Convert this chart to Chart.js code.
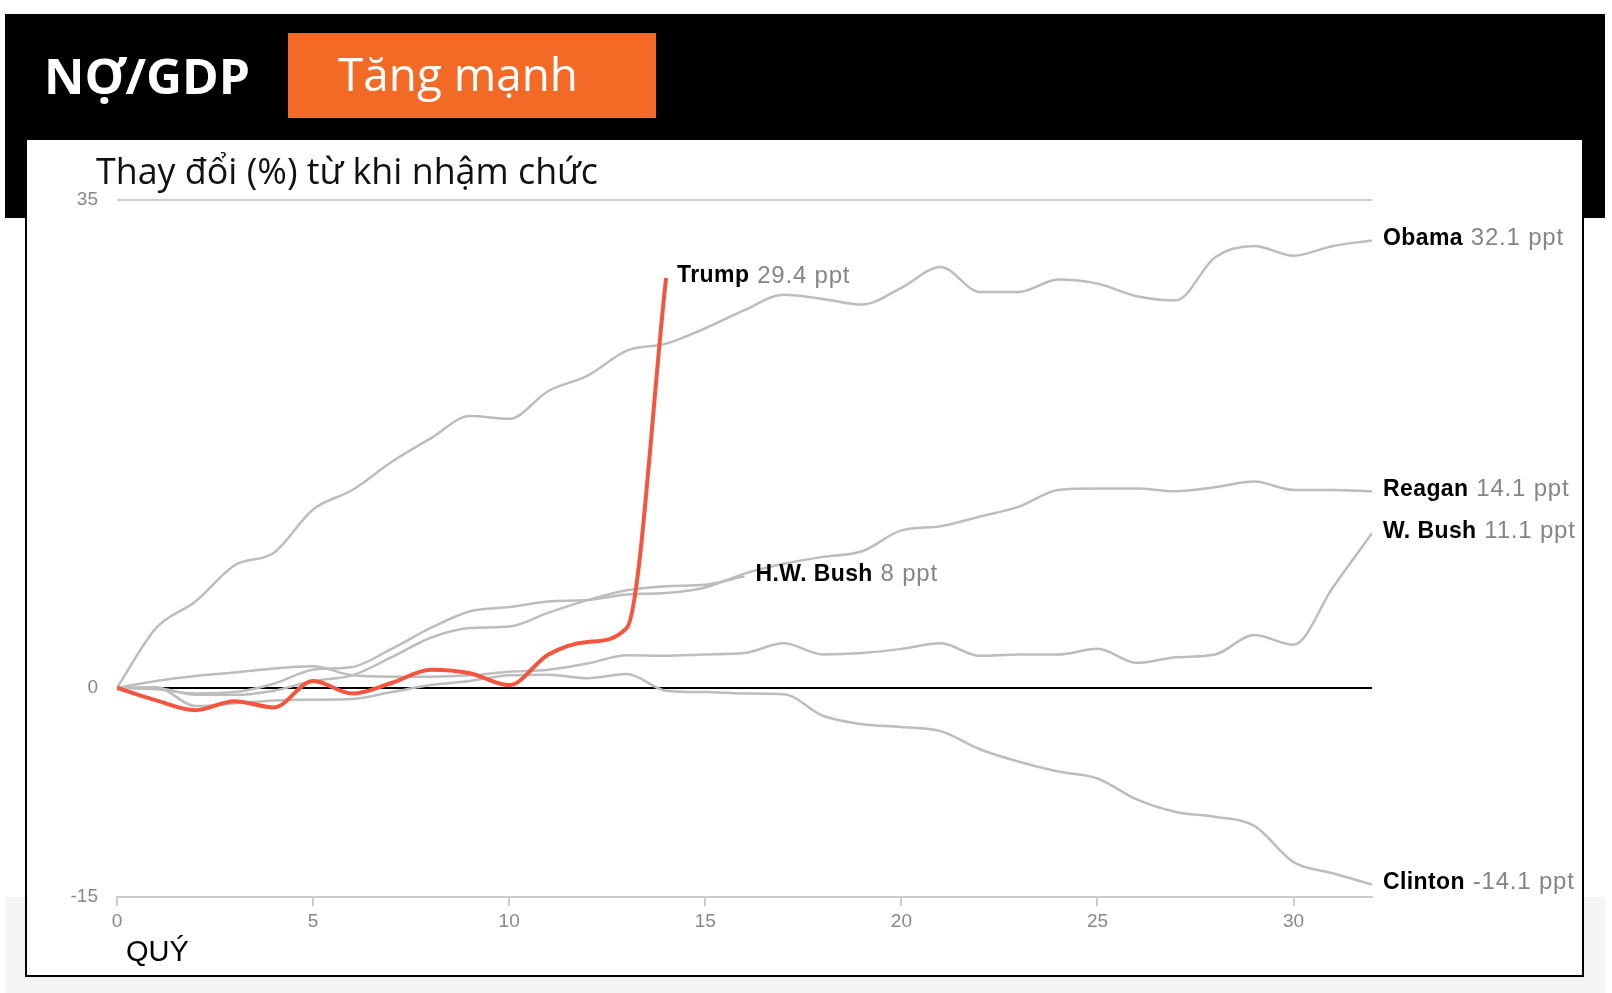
<!DOCTYPE html>
<html><head><meta charset="utf-8">
<script src="https://cdn.jsdelivr.net/npm/chart.js@4.4.1/dist/chart.umd.min.js"></script>
<style>
html,body{margin:0;padding:0;background:#fff;}
body{width:1612px;height:993px;position:relative;overflow:hidden;}
.abs{position:absolute;}
#band{left:5px;top:14px;width:1600px;height:204px;background:#000;}
#grey{left:5px;top:897px;width:1600px;height:96px;background:#f5f5f5;}
#panel{left:25px;top:140px;width:1559px;height:837px;background:#fff;border:2.5px solid #000;border-top:none;box-sizing:border-box;}
#orange{left:288px;top:33px;width:368px;height:85px;background:#f36a26;}
.txt{position:absolute;white-space:nowrap;transform-origin:0 0;line-height:normal;margin:0;padding:0;}
#wrap{position:absolute;left:0;top:0;width:1612px;height:993px;}
</style></head>
<body>
<div id="band" class="abs"></div>
<div id="grey" class="abs"></div>
<div id="panel" class="abs"></div>
<div id="orange" class="abs"></div>
<div id="wrap"><canvas id="c" width="1612" height="993"></canvas></div>
<div id="title" class="txt">NỢ/GDP</div>
<div id="badge" class="txt">Tăng mạnh</div>
<div id="subtitle" class="txt">Thay đổi (%) từ khi nhậm chức</div>
<div id="xname" class="txt">QUÝ</div>
<script>
// ---- data ----
const quarters = [0,1,2,3,4,5,6,7,8,9,10,11,12,13,14,15,16,17,18,19,20,21,22,23,24,25,26,27,28,29,30,31,32];
const xTicks = [0,5,10,15,20,25,30];
const yTicks = [-15,0,35];
const trump   = [0,-0.9,-1.6,-0.95,-1.4,0.5,-0.4,0.35,1.3,1.05,0.2,2.4,3.3,4.3,29.4];
const obama   = [0,4.3,6.2,8.8,9.7,12.8,14.2,16.2,17.9,19.5,19.3,21.3,22.4,24.2,24.7,25.8,27.1,28.2,27.9,27.5,28.7,30.2,28.4,28.4,29.3,29.0,28.1,27.8,30.9,31.7,31.0,31.7,32.1];
const reagan  = [0,-0.1,-0.4,-0.3,0.3,1.3,1.5,2.8,4.3,5.5,5.8,6.2,6.3,6.7,6.8,7.2,8.2,8.9,9.4,9.8,11.3,11.6,12.3,13.0,14.2,14.3,14.3,14.1,14.4,14.8,14.2,14.2,14.1];
const hwbush  = [0,0.0,-0.5,-0.5,-0.2,0.5,0.9,2.2,3.6,4.3,4.4,5.4,6.3,7.0,7.3,7.4,8.0];
const wbush   = [0,0.5,0.85,1.1,1.4,1.55,0.9,0.8,0.8,0.9,1.15,1.3,1.75,2.35,2.3,2.4,2.5,3.2,2.4,2.5,2.8,3.2,2.3,2.4,2.4,2.8,1.8,2.2,2.4,3.8,3.1,7.2,11.1];
const clinton = [0,0.05,-1.3,-1.1,-0.9,-0.85,-0.8,-0.3,0.2,0.5,0.9,0.95,0.7,1.0,-0.2,-0.3,-0.4,-0.45,-2.0,-2.6,-2.8,-3.1,-4.4,-5.3,-6.0,-6.5,-8.0,-8.9,-9.25,-9.9,-12.5,-13.3,-14.1];
const seriesNames = ['Trump','Obama','Reagan','H.W. Bush','W. Bush','Clinton'];
const endTexts = ['29.4 ppt','32.1 ppt','14.1 ppt','8 ppt','11.1 ppt','-14.1 ppt'];
const seriesValues = [trump, obama, reagan, hwbush, wbush, clinton];

// ---- text placement ----
function place(id, font, color, x, baseline, width){
  const el = document.getElementById(id);
  el.style.font = font; el.style.color = color;
  const ctx = document.createElement('canvas').getContext('2d');
  ctx.font = font;
  const m = ctx.measureText(el.textContent);
  el.style.left = x + 'px';
  el.style.top = (baseline - m.fontBoundingBoxAscent) + 'px';
  if (width) el.style.transform = 'scaleX(' + (width / m.width) + ')';
}

const GREY = '#bdbdbd', RED = '#f4553f';
const mk = arr => arr.map((v,i) => ({x: quarters[i], y: v}));

const endLabels = {
  id: 'endLabels',
  afterDatasetsDraw(chart){
    const ctx = chart.ctx;
    ctx.save();
    ctx.textBaseline = 'middle';
    chart.data.datasets.forEach((ds, i) => {
      const meta = chart.getDatasetMeta(i);
      const pt = meta.data[meta.data.length - 1];
      const x = pt.x + 11, y = pt.y - 2;
      ctx.font = 'bold 23px "Liberation Sans"';
      ctx.letterSpacing = '0.4px';
      ctx.fillStyle = '#000';
      ctx.fillText(seriesNames[i], x, y);
      const w = ctx.measureText(seriesNames[i] + ' ').width;
      ctx.font = '24px "Liberation Sans"';
      ctx.letterSpacing = '0.8px';
      ctx.fillStyle = '#858585';
      ctx.fillText(endTexts[i], x + w + 1, y);
    });
    ctx.restore();
  }
};

function build(){
  place('title', 'bold 48px "Open Sans"', '#fff', 44, 94, 206);
  place('badge', '46px "Open Sans"', '#fff', 338, 91, 240);
  place('subtitle', '37px "Open Sans"', '#111', 96, 184, 502);
  place('xname', '29px "Liberation Sans"', '#000', 126, 961, 0);

  new Chart(document.getElementById('c'), {
    type: 'line',
    data: {
      datasets: seriesValues.map((vals, i) => ({
        label: seriesNames[i],
        data: mk(vals),
        borderColor: i === 0 ? RED : GREY,
        borderWidth: i === 0 ? 4 : 2.5,
        pointRadius: 0,
        fill: false,
        cubicInterpolationMode: 'monotone'
      }))
    },
    options: {
      responsive: false, animation: false, devicePixelRatio: 1,
      layout: {padding: {left: 57, right: 240, top: 200, bottom: 56}},
      plugins: {legend: {display: false}, tooltip: {enabled: false}},
      scales: {
        x: {
          type: 'linear', min: 0, max: 32,
          afterBuildTicks: s => { s.ticks = xTicks.map(v => ({value: v})); },
          afterFit: s => { s.height = 40; },
          ticks: {color: '#888', font: {family: 'Liberation Sans', size: 19}, padding: 4, maxRotation: 0, autoSkip: false},
          grid: {drawOnChartArea: false, drawTicks: true, tickLength: 9, color: '#ccc', lineWidth: 2},
          border: {display: true, color: '#ccc', width: 2}
        },
        y: {
          type: 'linear', min: -15, max: 35,
          afterBuildTicks: s => { s.ticks = yTicks.map(v => ({value: v})); },
          afterFit: s => { s.width = 60; },
          ticks: {color: '#888', font: {family: 'Liberation Sans', size: 19}, padding: 19},
          grid: {color: c => (c.tick && c.tick.value === 0) ? '#000' : '#ccc', lineWidth: 2, drawTicks: false, tickLength: 0},
          border: {display: false}
        }
      }
    },
    plugins: [endLabels]
  });
}

Promise.all([
  document.fonts.load('bold 48px "Open Sans"'),
  document.fonts.load('46px "Open Sans"'),
  document.fonts.load('29px "Liberation Sans"'),
  document.fonts.load('bold 23px "Liberation Sans"')
]).then(build, build);
</script>
</body></html>
